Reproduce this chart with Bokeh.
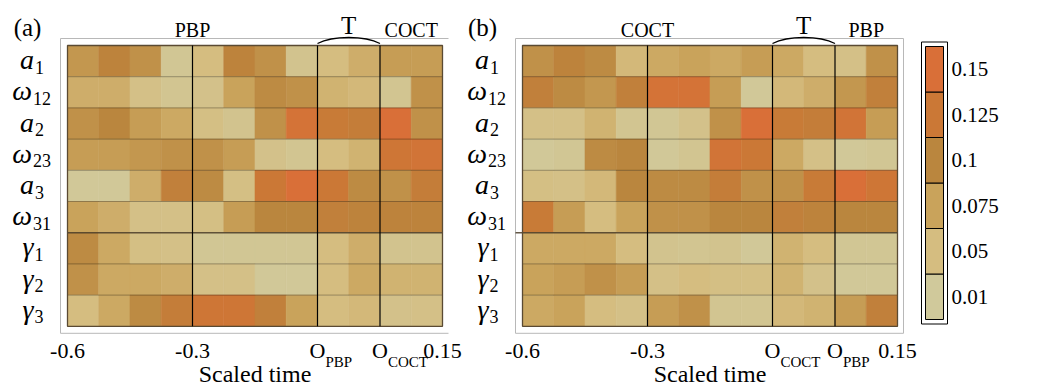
import numpy as np
from bokeh.plotting import figure
from bokeh.models import Range1d, ColumnDataSource
from bokeh.layouts import row
from bokeh.transform import linear_cmap
from bokeh.core.properties import value
from bokeh.embed import file_html
from bokeh.resources import INLINE

# ---------------- data ----------------
row_main = ["a", "ω", "a", "ω", "a", "ω", "γ", "γ", "γ"]
row_sub = ["1", "12", "2", "23", "3", "31", "1", "2", "3"]
n_cols = 12

tick_cols = [0, 4, 8, 10, 12]
tick_main = ["-0.6", "-0.3", "O", "O", "0.15"]
tick_sub_a = ["", "", "PBP", "COCT", ""]
tick_sub_b = ["", "", "COCT", "PBP", ""]
event_cols = [4, 8, 10]
phase_start = [0, 8, 10]
phase_end = [8, 10, 12]
phase_a = ["PBP", "T", "COCT"]
phase_b = ["COCT", "T", "PBP"]
x_title = "Scaled time"

values_a = [
    [0.085, 0.105, 0.09, 0.02, 0.05, 0.105, 0.09, 0.03, 0.05, 0.065, 0.08, 0.08],
    [0.065, 0.065, 0.04, 0.025, 0.035, 0.075, 0.095, 0.09, 0.06, 0.055, 0.025, 0.09],
    [0.09, 0.1, 0.08, 0.07, 0.045, 0.03, 0.09, 0.14, 0.12, 0.115, 0.15, 0.09],
    [0.08, 0.08, 0.085, 0.09, 0.09, 0.08, 0.035, 0.025, 0.05, 0.06, 0.13, 0.135],
    [0.015, 0.015, 0.065, 0.11, 0.095, 0.045, 0.125, 0.155, 0.125, 0.095, 0.09, 0.115],
    [0.075, 0.065, 0.04, 0.04, 0.045, 0.08, 0.1, 0.1, 0.11, 0.105, 0.105, 0.105],
    [0.095, 0.07, 0.045, 0.04, 0.02, 0.02, 0.02, 0.02, 0.05, 0.065, 0.03, 0.03],
    [0.09, 0.07, 0.07, 0.065, 0.04, 0.04, 0.015, 0.015, 0.05, 0.07, 0.06, 0.06],
    [0.05, 0.07, 0.095, 0.115, 0.13, 0.13, 0.11, 0.075, 0.05, 0.055, 0.035, 0.04],
]
values_b = [
    [0.09, 0.105, 0.095, 0.055, 0.07, 0.075, 0.07, 0.08, 0.07, 0.05, 0.04, 0.09],
    [0.11, 0.095, 0.085, 0.11, 0.14, 0.14, 0.08, 0.015, 0.055, 0.065, 0.085, 0.11],
    [0.04, 0.04, 0.06, 0.025, 0.02, 0.035, 0.09, 0.15, 0.12, 0.115, 0.135, 0.08],
    [0.015, 0.02, 0.095, 0.1, 0.015, 0.025, 0.135, 0.125, 0.07, 0.04, 0.015, 0.02],
    [0.045, 0.04, 0.055, 0.1, 0.095, 0.095, 0.115, 0.09, 0.09, 0.12, 0.15, 0.13],
    [0.12, 0.08, 0.05, 0.075, 0.09, 0.09, 0.1, 0.1, 0.11, 0.105, 0.1, 0.1],
    [0.07, 0.07, 0.07, 0.05, 0.03, 0.025, 0.03, 0.015, 0.06, 0.05, 0.02, 0.02],
    [0.075, 0.08, 0.09, 0.08, 0.04, 0.05, 0.045, 0.045, 0.06, 0.035, 0.015, 0.015],
    [0.07, 0.075, 0.05, 0.04, 0.08, 0.09, 0.025, 0.025, 0.055, 0.06, 0.08, 0.11],
]

legend_values = [0.01, 0.05, 0.075, 0.1, 0.125, 0.15]
legend_labels = ["0.01", "0.05", "0.075", "0.1", "0.125", "0.15"]
legend_colors = ["#D0C99B", "#D5BD80", "#C9A35B", "#BA863E", "#CB7836", "#D96F38"]

# ---------------- palette ----------------
def hex2rgb(h):
    h = h.lstrip("#")
    return [int(h[i:i + 2], 16) for i in (0, 2, 4)]

LOW, HIGH = 0.01, 0.155
rgb = np.array([hex2rgb(c) for c in legend_colors], dtype=float)
palette = []
for v in np.linspace(LOW, HIGH, 256):
    c = [int(round(np.interp(v, legend_values, rgb[:, k]))) for k in range(3)]
    palette.append("#%02x%02x%02x" % tuple(c))

# ---------------- layout constants ----------------
FONT = value("Liberation Serif")
FIG_W, FIG_H = 918, 387
HM_L, HM_T = 67, 45
CW, RH = 31.25, 31.2
PANEL_B_LEFT = 522
n_rows = len(row_main)
MAIN_W = {"a": 14.0, "ω": 19.0, "γ": 13.0}
SUB_DIGIT_W = 9.0
BASE_FIX = 0.3  # baseline correction (fraction of font size)


def px_x(px):
    return px / CW


def px_y(px):
    return px / RH


def ty(y, size):
    # shift text anchor upward to compensate renderer baseline placement
    return y - px_y(BASE_FIX * size)


p = figure(width=FIG_W, height=FIG_H,
           x_range=Range1d(-HM_L / CW, (FIG_W - HM_L) / CW),
           y_range=Range1d((FIG_H - HM_T) / RH, -HM_T / RH),
           output_backend="svg", toolbar_location=None, min_border=0,
           x_axis_location=None, y_axis_location=None,
           outline_line_color=None, background_fill_color="white",
           border_fill_color="white")
p.grid.visible = False


def txt(x, y, t, size, align="center", style="normal"):
    p.text(x=x, y=[ty(v, size) for v in y], text=t, text_font=FONT,
           text_font_size="%dpx" % size, text_font_style=style, text_align=align,
           text_baseline="alphabetic", text_color="black")


def panel(values, letter, tick_sub, phases, full_box, ox):
    xs, ys, vs = [], [], []
    for r, rowvals in enumerate(values):
        for c, v in enumerate(rowvals):
            xs.append(ox + c + 0.5)
            ys.append(r + 0.5)
            vs.append(v)
    src = ColumnDataSource(dict(x=xs, y=ys, v=vs))
    cmap = linear_cmap("v", palette, LOW, HIGH)
    p.rect("x", "y", width=1, height=1, source=src, fill_color=cmap,
           line_color=cmap, line_width=0.6)

    # row separators
    strong = row_main.index("γ")
    seps = [r for r in range(1, n_rows) if r != strong]
    p.multi_line(xs=[[ox, ox + n_cols] for _ in seps], ys=[[r, r] for r in seps],
                 line_color="black", line_alpha=0.3, line_width=1)

    # outer grey frame
    fl, fr = ox - px_x(7), ox + n_cols + px_x(6)
    ft, fb = -px_y(7), n_rows + px_y(7)
    if full_box:
        p.line([fl, fr, fr, fl, fl], [ft, ft, fb, fb, ft], line_color="#b8b8b8", line_width=1)
        sep_x0 = fl
    else:
        p.line([fr, fl, fl, fr], [ft, ft, fb, fb], line_color="#b8b8b8", line_width=1)
        sep_x0 = ox
    p.line([sep_x0, ox + n_cols], [strong, strong], line_color="#4a3c28",
           line_alpha=0.85, line_width=1.5)

    # heatmap outline and event lines
    p.quad(left=ox, right=ox + n_cols, top=0, bottom=n_rows, fill_color=None,
           line_color="#5a4a33", line_width=1.3)
    ex = [ox + c for c in event_cols]
    p.segment(x0=ex, y0=[0] * len(ex), x1=ex, y1=[n_rows] * len(ex),
              line_color="black", line_width=1.2)

    # brace over the transition phase
    b0, b1 = ox + phase_start[1], ox + phase_end[1]
    w = b1 - b0
    p.bezier(x0=[b0], y0=[-px_y(2)], x1=[b1], y1=[-px_y(2)],
             cx0=[b0 + 0.25 * w], cy0=[-px_y(10)], cx1=[b1 - 0.25 * w], cy1=[-px_y(10)],
             line_color="black", line_width=1.3)

    # phase labels
    for s, e, lab in zip(phase_start, phase_end, phases):
        big = lab == "T"
        txt([ox + (s + e) / 2], [-px_y(13 if big else 10)], [lab], 25 if big else 20)

    # panel letter
    txt([ox - px_x(40)], [-px_y(11)], [letter], 25)

    # row labels
    cxl = ox - px_x(36)
    for r, (m, s) in enumerate(zip(row_main, row_sub)):
        split = cxl + px_x((MAIN_W[m] - SUB_DIGIT_W * len(s)) / 2)
        txt([split], [r + 0.5 + px_y(7)], [m], 28, align="right", style="italic")
        txt([split + px_x(1)], [r + 0.5 + px_y(11.5)], [s], 18, align="left")

    # x tick labels
    txt([ox + c for c in tick_cols], [n_rows + px_y(31)] * len(tick_cols), tick_main, 22)
    sub_x = [ox + c + px_x(8) for c, s in zip(tick_cols, tick_sub) if s]
    sub_t = [s for s in tick_sub if s]
    txt(sub_x, [n_rows + px_y(40)] * len(sub_x), sub_t, 15, align="left")

    # axis title
    txt([ox + n_cols / 2], [n_rows + px_y(55)], [x_title], 24)


panel(values_a, "(a)", tick_sub_a, phase_a, False, 0)
panel(values_b, "(b)", tick_sub_b, phase_b, True, px_x(PANEL_B_LEFT - HM_L))

# ---------------- legend (bar) ----------------
CB_FW = 1037 - FIG_W
BAR_L, BAR_W = 7, 18
BAND_H, BAR_TOP, BAR_BOT = 45.5, 46, 319
pc = figure(width=CB_FW, height=FIG_H,
            x_range=Range1d(-BAR_L / BAR_W, (CB_FW - BAR_L) / BAR_W),
            y_range=Range1d(-(FIG_H - BAR_BOT) / BAND_H, len(legend_values) + BAR_TOP / BAND_H),
            output_backend="svg", toolbar_location=None, min_border=0,
            x_axis_location=None, y_axis_location=None, outline_line_color=None)
pc.grid.visible = False
idx = list(range(len(legend_values)))
lsrc = ColumnDataSource(dict(b=idx, t=[i + 1 for i in idx], c=legend_colors,
                             m=[i + 0.5 for i in idx], lab=legend_labels))
pc.quad(left=0, right=1, bottom="b", top="t", fill_color="c", line_color="black",
        line_width=1, source=lsrc)
pad_x, pad_y = 4 / BAR_W, 4.5 / BAND_H
pc.quad(left=-pad_x, right=1 + pad_x, bottom=-pad_y, top=len(idx) + pad_y,
        fill_color=None, line_color="black", line_width=1)
pc.text(x=1 + 8 / BAR_W, y="m", text="lab", source=lsrc, text_font=FONT,
        text_font_size="21px", text_align="left", text_baseline="middle",
        text_color="black")

layout = row(p, pc)
open("out.html", "w").write(file_html(layout, INLINE))
